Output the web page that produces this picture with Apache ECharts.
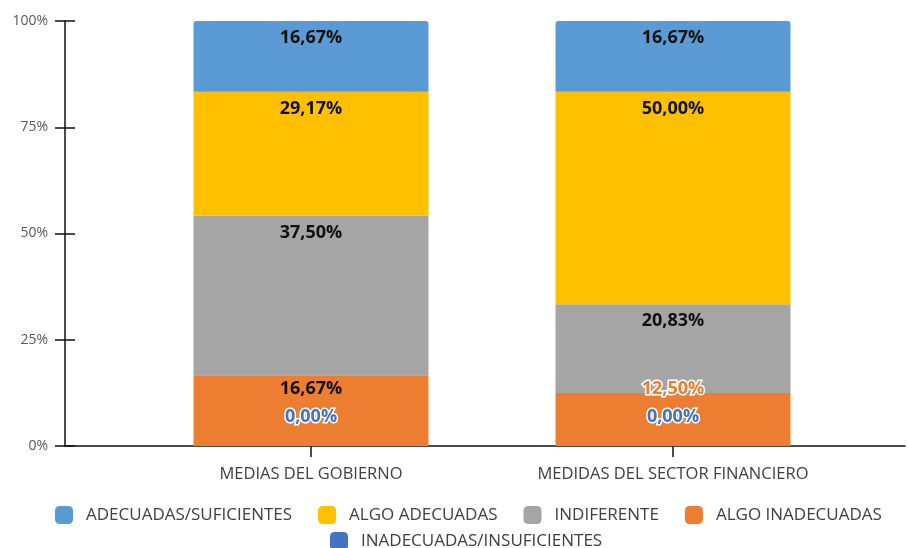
<!DOCTYPE html>
<html>
  <head>
    <meta charset="utf-8">
    <title>Medidas</title>
    <script type="text/javascript" src="https://cdn.jsdelivr.net/npm/echarts@6/dist/echarts.min.js"></script>
    <style>
      html, body { margin: 0; padding: 0; background: #fff; }
    </style>
  </head>
  <body>
    <div id="main" style="width: 908px;height:548px;"></div>
    <script type="text/javascript">
    // datos (porcentajes)
    var categorias = ['MEDIAS DEL GOBIERNO', 'MEDIDAS DEL SECTOR FINANCIERO'];
    var inadecuadas = [0, 0];
    var algoInadecuadas = [16.67, 12.50];
    var indiferente = [37.50, 20.83];
    var algoAdecuadas = [29.17, 50.00];
    var adecuadas = [16.67, 16.67];
    var ticksY = [0, 25, 50, 75, 100];

    var colores = {
      adecuadas: '#5B9BD5',
      algoAdecuadas: '#FFC000',
      indiferente: '#A5A5A5',
      algoInadecuadas: '#ED7D31',
      inadecuadas: '#4472C4'
    };
    var fuente = 'Open Sans';

    function fmt(v) {
      return v.toFixed(2).replace('.', ',') + '%';
    }

    var etiqueta = {
      show: true,
      position: 'insideTop',
      distance: 8,
      color: '#111',
      fontFamily: fuente,
      fontWeight: 'bold',
      fontSize: 18,
      formatter: function (p) { return fmt(p.value); }
    };

    function serie(nombre, datos, color, extra) {
      var s = {
        name: nombre,
        type: 'bar',
        stack: 'total',
        barWidth: 235,
        xAxisIndex: 0,
        yAxisIndex: 0,
        itemStyle: { color: color },
        label: etiqueta,
        data: datos
      };
      if (extra) {
        for (var k in extra) s[k] = extra[k];
      }
      return s;
    }

    var dom = document.getElementById('main');
    var myChart = echarts.init(dom);

    var leyendaTexto = { color: '#404040', fontFamily: fuente, fontSize: 17, padding: [0, 0, 0, 8] };

    var option = {
      animation: false,
      grid: [
        { left: 130, right: 54, top: 21, bottom: 102 },
        { left: 65, right: 3, top: 21, bottom: 102 }
      ],
      xAxis: [
        {
          type: 'category', gridIndex: 0, data: categorias,
          axisLine: { show: false },
          axisTick: { show: true, alignWithLabel: true, length: 11, lineStyle: { color: '#111', width: 1.5 } },
          axisLabel: { color: '#404040', fontFamily: fuente, fontSize: 16.5, margin: 20 }
        },
        {
          type: 'category', gridIndex: 0, data: categorias,
          axisLine: { show: false },
          axisTick: { show: true, inside: true, alignWithLabel: true, length: 10, lineStyle: { color: '#111', width: 1.5 } },
          axisLabel: { show: false }
        },
        {
          type: 'value', gridIndex: 1, min: 0, max: 1,
          axisLine: { show: true, lineStyle: { color: '#111', width: 1.5 } },
          axisTick: { show: false }, axisLabel: { show: false }, splitLine: { show: false }
        }
      ],
      yAxis: [
        {
          type: 'value', gridIndex: 0, min: 0, max: 100, interval: 25, offset: 65,
          axisLine: { show: false },
          axisTick: { show: true, inside: true, length: 10, lineStyle: { color: '#111', width: 1.5 } },
          axisLabel: { show: false }, splitLine: { show: false }
        },
        {
          type: 'value', gridIndex: 1, min: ticksY[0], max: ticksY[ticksY.length - 1], interval: 25,
          axisLine: { show: true, lineStyle: { color: '#111', width: 1.5 } },
          axisTick: { show: true, length: 10, lineStyle: { color: '#111', width: 1.5 } },
          axisLabel: { color: '#595959', fontFamily: fuente, fontSize: 14, margin: 17, formatter: '{value}%' },
          splitLine: { show: false }
        }
      ],
      legend: [
        {
          data: ['ADECUADAS/SUFICIENTES', 'ALGO ADECUADAS', 'INDIFERENTE', 'ALGO INADECUADAS'],
          left: 55, top: 506, padding: 0,
          itemWidth: 18, itemHeight: 18, itemGap: 26,
          icon: 'roundRect',
          textStyle: leyendaTexto
        },
        {
          data: ['INADECUADAS/INSUFICIENTES'],
          left: 330, top: 532, padding: 0,
          itemWidth: 18, itemHeight: 18,
          icon: 'roundRect',
          textStyle: leyendaTexto
        }
      ],
      series: [
        serie('INADECUADAS/INSUFICIENTES', inadecuadas, colores.inadecuadas, {
          label: {
            show: true, position: 'insideBottom', distance: 20,
            color: colores.inadecuadas, textBorderColor: '#fff', textBorderWidth: 3,
            fontFamily: fuente, fontWeight: 'bold', fontSize: 18,
            formatter: function (p) { return fmt(p.value); }
          }
        }),
        serie('ALGO INADECUADAS', [
          { value: algoInadecuadas[0], label: { distance: 5 } },
          { value: algoInadecuadas[1], label: { distance: -13, color: colores.algoInadecuadas, textBorderColor: '#fff', textBorderWidth: 3 } }
        ], colores.algoInadecuadas),
        serie('INDIFERENTE', indiferente, colores.indiferente),
        serie('ALGO ADECUADAS', algoAdecuadas, colores.algoAdecuadas),
        serie('ADECUADAS/SUFICIENTES', adecuadas, colores.adecuadas, {
          itemStyle: { color: colores.adecuadas, borderRadius: [3, 3, 0, 0] }
        })
      ]
    };

    myChart.setOption(option);
    </script>
  </body>
</html>
